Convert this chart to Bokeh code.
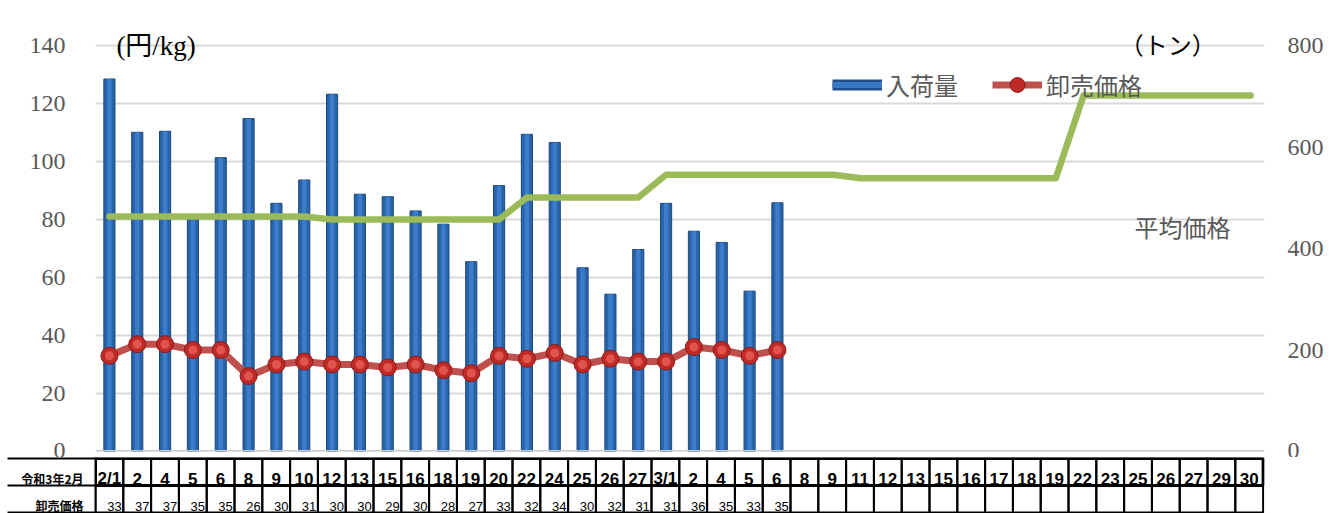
from bokeh.plotting import figure
from bokeh.models import (Range1d, LinearAxis, FixedTicker, ColumnDataSource, Legend,
                          LegendItem, Label, Span)
from bokeh.layouts import column
from bokeh.embed import file_html
from bokeh.resources import INLINE

# ---------------- data ----------------
dates = ["2/1", "2", "4", "5", "6", "8", "9", "10", "12", "13", "15", "16", "18", "19", "20",
         "22", "24", "25", "26", "27",
         "3/1", "2", "4", "5", "6", "8", "9", "11", "12", "13", "15", "16", "17", "18", "19",
         "22", "23", "25", "26", "27", "29", "30"]
arrivals = [734, 629, 631, 457, 579, 656, 489, 535, 704, 507, 502, 474, 448, 374, 524,
            625, 609, 362, 310, 398, 489, 434, 412, 316, 490]          # トン
prices = [33, 37, 37, 35, 35, 26, 30, 31, 30, 30, 29, 30, 28, 27, 33,
          32, 34, 30, 32, 31, 31, 36, 35, 33, 35]                      # 円/kg
avg_price = [81.0, 81.0, 81.0, 81.0, 81.0, 81.0, 81.0, 81.0,
             80.0, 80.0, 80.0, 80.0, 80.0, 80.0, 80.0,
             87.6, 87.6, 87.6, 87.6, 87.6,
             95.4, 95.4, 95.4, 95.4, 95.4, 95.4, 95.4,
             94.2, 94.2, 94.2, 94.2, 94.2, 94.2, 94.2, 94.2,
             122.8, 122.8, 122.8, 122.8, 122.8, 122.8, 122.8]
left_ticks = [0, 20, 40, 60, 80, 100, 120, 140]
right_ticks = [0, 200, 400, 600, 800]
table_title = "令和3年2月"
row_label = "卸売価格"

N = len(dates)
xs = list(range(N))

SERIF = "Liberation Serif, Noto Sans CJK JP"
JP = "Noto Sans CJK JP"
NARROW = "Liberation Sans Narrow, Liberation Sans, Noto Sans CJK JP"

# ---------------- chart ----------------
YMAX = 152.07
p = figure(width=1329, height=457, x_range=Range1d(-0.5, N - 0.5),
           y_range=Range1d(0, YMAX), output_backend="svg", toolbar_location=None,
           x_axis_location=None, min_border_left=95, min_border_right=65,
           min_border_top=10, min_border_bottom=6)
p.extra_y_ranges = {"ton": Range1d(0, YMAX * 800 / 140)}
p.outline_line_color = None
p.background_fill_color = "white"
p.border_fill_color = "white"
p.xgrid.visible = False
p.ygrid.grid_line_color = "#d9d9d9"
p.ygrid.grid_line_width = 2

ya = p.yaxis[0]
ya.ticker = FixedTicker(ticks=left_ticks)
ra = LinearAxis(y_range_name="ton", ticker=FixedTicker(ticks=right_ticks))
p.add_layout(ra, "right")
for ax, so in ((ya, 30), (ra, 23)):
    ax.axis_line_color = None
    ax.major_tick_line_color = None
    ax.minor_tick_line_color = None
    ax.major_tick_out = 0
    ax.minor_tick_out = 0
    ax.major_label_text_font = SERIF
    ax.major_label_text_font_size = "24px"
    ax.major_label_text_color = "#595959"
    ax.major_label_standoff = so

p.add_layout(Span(location=0, dimension="width", line_color="#c9c9c9", line_width=3))

bar_src = ColumnDataSource(dict(x=xs[:len(arrivals)], top=arrivals))
p.vbar(x="x", top="top", width=0.4, source=bar_src, y_range_name="ton",
       fill_color="#2a64a8", line_color="#1c4679", line_width=1)
p.vbar(x="x", top="top", width=0.16, source=bar_src, y_range_name="ton",
       fill_color="#3b7ccb", line_color=None)

p.line(xs, avg_price, line_color="#9bbb59", line_width=6.5, line_join="round",
       line_cap="round")

pr_src = ColumnDataSource(dict(x=xs[:len(prices)], y=prices))
pl = p.line("x", "y", source=pr_src, line_color="#c0504d", line_width=7, line_join="round")
pm = p.scatter("x", "y", source=pr_src, size=17, fill_color="#c02a26",
               line_color="#8a1b18", line_width=1)
p.scatter("x", "y", source=pr_src, size=9, fill_color="#e0544e", line_color=None)

# legend key proxies (no visible marks in the plot area)
nan = float("nan")
k1 = p.line(x=xs[:1], y=[nan], line_color="#1f4f8c", line_width=11)
k2 = p.line(x=xs[:1], y=[nan], line_color="#3a78c2", line_width=6)
legend = Legend(items=[LegendItem(label="入荷量", renderers=[k1, k2]),
                       LegendItem(label="卸売価格", renderers=[pl, pm])],
                location=(737, 348), orientation="horizontal",
                glyph_width=50, glyph_height=37, label_height=37, label_standoff=4,
                spacing=34, padding=0, margin=0, border_line_color=None,
                background_fill_alpha=0, label_text_font=JP,
                label_text_font_size="24px", label_text_color="#595959")
p.add_layout(legend)

p.add_layout(Label(x=0.25, y=140, text="(円/kg)", text_baseline="middle",
                   text_font=SERIF, text_font_size="27px", text_color="black"))
p.add_layout(Label(x=36.3, y=140, text="（トン）", text_baseline="middle",
                   text_font=SERIF, text_font_size="24px", text_color="black"))
p.add_layout(Label(x=36.83, y=77.6, text="平均価格", text_baseline="middle",
                   text_font=JP, text_font_size="24px", text_color="#595959"))

# ---------------- table ----------------
HEAD_Y, VAL_Y = 1.25, 0.24
t = figure(width=1329, height=56, x_range=Range1d(-0.5, N - 0.45),
           y_range=Range1d(-0.037, 2.037), output_backend="svg", toolbar_location=None,
           x_axis_location=None, y_axis_location="left", min_border_left=95,
           min_border_right=65, min_border_top=0, min_border_bottom=0)
t.grid.visible = False
t.outline_line_color = None
t.border_fill_color = "white"

ta = t.yaxis[0]
ta.ticker = FixedTicker(ticks=[HEAD_Y, VAL_Y], minor_ticks=[0, 1, 2])
ta.major_label_overrides = {HEAD_Y: table_title, VAL_Y: row_label}
ta.major_tick_line_color = None
ta.major_tick_out = 0
ta.major_tick_in = 0
ta.minor_tick_out = 88
ta.minor_tick_in = 0
ta.minor_tick_line_color = "black"
ta.minor_tick_line_width = 2
ta.axis_line_color = "black"
ta.axis_line_width = 2
ta.major_label_standoff = -76
ta.major_label_text_font = JP
ta.major_label_text_font_style = "bold"
ta.major_label_text_font_size = "12px"
ta.major_label_text_color = "black"

for yc in (1.5, 0.5):
    t.rect(x=xs, y=[yc] * N, width=1, height=1, fill_color=None,
           line_color="black", line_width=2)
t.rect(x=[(N - 1) / 2], y=[1.5], width=[N], height=1,
       fill_color=None, line_color="black", line_width=3)

t.text(x=xs, y=[HEAD_Y] * N, text=dates, text_align="center", text_baseline="middle",
       text_font={"value": NARROW}, text_font_style="bold", text_font_size="17px",
       text_color="black")
t.text(x=[i + 0.44 for i in range(len(prices))], y=[VAL_Y] * len(prices),
       text=[str(v) for v in prices], text_align="right", text_baseline="middle",
       text_font={"value": NARROW}, text_font_size="13px", text_color="black")

layout = column(p, t, spacing=0)
open("out.html", "w").write(file_html(layout, INLINE))
